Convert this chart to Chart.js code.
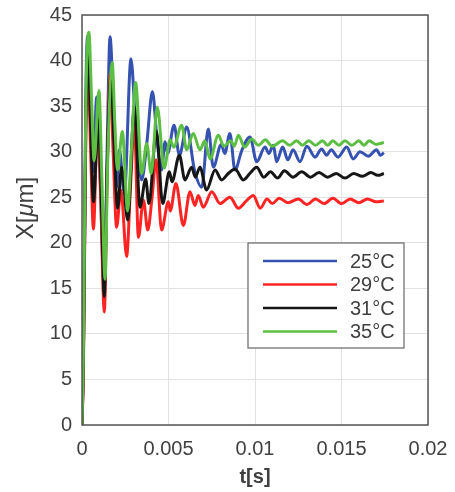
<!DOCTYPE html>
<html>
<head>
<meta charset="utf-8">
<script src="https://cdn.jsdelivr.net/npm/chart.js@4.4.0/dist/chart.umd.min.js"></script>
<style>
  html, body { margin: 0; padding: 0; background: #fff; }
  #wrap { width: 455px; height: 492px; }
</style>
</head>
<body>
<div id="wrap"><canvas id="tempChart" width="455" height="492"></canvas></div>
<script>
// series labels
const seriesLabels = ['25°C', '29°C', '31°C', '35°C'];

// tick labels
const xTicks = [0, 0.005, 0.01, 0.015, 0.02];
const yTicks = [0, 5, 10, 15, 20, 25, 30, 35, 40, 45];

// 25°C (blue)
const t25 = [0, 0.00008, 0.00015, 0.00022, 0.00033, 0.0005, 0.00065, 0.00085, 0.00105, 0.00129, 0.00145, 0.00162, 0.0018, 0.002, 0.00216, 0.00245, 0.00283, 0.0031, 0.00345, 0.00375, 0.00407, 0.00435, 0.0046, 0.0048, 0.00495, 0.00532, 0.00563, 0.00605, 0.0065, 0.00692, 0.0073, 0.00759, 0.00805, 0.00825, 0.00855, 0.00884, 0.00925, 0.00971, 0.0101, 0.01058, 0.0108, 0.01106, 0.01125, 0.0116, 0.0119, 0.0122, 0.0126, 0.013, 0.01347, 0.01385, 0.01414, 0.0144, 0.0148, 0.0153, 0.01568, 0.01607, 0.01655, 0.01703, 0.01725, 0.01745];
const x25 = [0, 7, 21, 36, 42.7, 35, 27.8, 36, 27, 14.8, 30, 42.6, 36, 26.1, 30.2, 25.4, 40.2, 33, 26.9, 31, 36.6, 31, 28, 31.1, 29.8, 32.9, 29.6, 32.7, 28, 26.1, 32.5, 28.3, 30.8, 29.8, 32, 28, 30.2, 31.6, 28.9, 30.5, 29.8, 30.7, 28.9, 30.5, 29.1, 30.2, 28.9, 30.6, 29.4, 30.3, 29.6, 30.2, 29.4, 30.5, 29.2, 30, 29.5, 30.2, 29.6, 29.9];

// 29°C (red)
const t29 = [0, 0.00008, 0.00015, 0.00022, 0.00035, 0.0005, 0.00066, 0.0009, 0.00108, 0.00129, 0.00145, 0.00162, 0.0018, 0.002, 0.00225, 0.00258, 0.0028, 0.00303, 0.00326, 0.00355, 0.0038, 0.00405, 0.00428, 0.0046, 0.00499, 0.0051, 0.00543, 0.00586, 0.00624, 0.00653, 0.00672, 0.00701, 0.0075, 0.00798, 0.00855, 0.00904, 0.0095, 0.0099, 0.0103, 0.0107, 0.011, 0.0114, 0.0119, 0.0125, 0.013, 0.0135, 0.014, 0.0145, 0.015, 0.0155, 0.016, 0.0165, 0.017, 0.01745];
const x29 = [0, 6, 19, 32, 39, 30, 21.5, 33.5, 25, 12.4, 27, 38.5, 30, 21.7, 25.8, 18.5, 26, 33, 20.6, 24.7, 21.4, 25, 29.1, 21.4, 24.5, 23.5, 26.5, 21.9, 25.6, 24.1, 25.2, 23.9, 25.6, 24.3, 25, 23.8, 24.6, 25.2, 23.8, 24.8, 24.3, 24.9, 24.4, 24.8, 24.2, 24.8, 24.3, 24.9, 24.3, 24.8, 24.4, 24.8, 24.5, 24.6];

// 31°C (black)
const t31 = [0, 0.00008, 0.00015, 0.00022, 0.00037, 0.0005, 0.00066, 0.00094, 0.0011, 0.00129, 0.00145, 0.00168, 0.00185, 0.00206, 0.00229, 0.00264, 0.00303, 0.00335, 0.00368, 0.00387, 0.0043, 0.00466, 0.00505, 0.0052, 0.00563, 0.00595, 0.00634, 0.00655, 0.00682, 0.0072, 0.00769, 0.00807, 0.00845, 0.00884, 0.00933, 0.0097, 0.0101, 0.0105, 0.0109, 0.0113, 0.0117, 0.0122, 0.0127, 0.0132, 0.0137, 0.0142, 0.0147, 0.0152, 0.0157, 0.0162, 0.0167, 0.0171, 0.01745];
const x31 = [0, 7, 20, 33, 40.4, 33, 24.5, 33.5, 26, 14.1, 28, 38.5, 31, 23.8, 28.3, 22.5, 34.9, 23.9, 27, 24.3, 32.3, 24.3, 27.8, 26.7, 29.6, 26.9, 28.3, 27.2, 28.3, 25.8, 28, 26.9, 27.6, 28.1, 26.9, 27.6, 28.3, 27.2, 27.8, 27.1, 27.9, 27.2, 27.8, 27.2, 27.7, 27.2, 27.6, 27.1, 27.6, 27.3, 27.7, 27.4, 27.6];

// 35°C (green)
const t35 = [0, 0.00008, 0.00014, 0.00022, 0.0004, 0.00055, 0.0007, 0.00098, 0.00115, 0.00133, 0.0015, 0.00175, 0.0019, 0.00205, 0.00233, 0.00264, 0.00285, 0.0031, 0.00345, 0.00374, 0.004, 0.00435, 0.00475, 0.00509, 0.0053, 0.00576, 0.00605, 0.00643, 0.00682, 0.0071, 0.0074, 0.00788, 0.0082, 0.0086, 0.0088, 0.00904, 0.0094, 0.00981, 0.0102, 0.0106, 0.011, 0.0116, 0.012, 0.0124, 0.01275, 0.0131, 0.0135, 0.0139, 0.0142, 0.0145, 0.01485, 0.0152, 0.0156, 0.016, 0.0163, 0.0166, 0.017, 0.01745];
const x35 = [0, 8, 20, 35, 43.1, 36, 29, 36.7, 27, 16, 30, 39.8, 33, 28, 32.2, 23.5, 30, 37.6, 27.6, 30.9, 27.6, 34.9, 28.2, 31.3, 30.5, 32.9, 30.2, 32, 30.2, 31.2, 29.2, 31.8, 30.6, 31.2, 30.6, 31.8, 30.5, 31.4, 30.7, 31.3, 30.6, 31.2, 30.7, 31.2, 30.7, 31.2, 30.7, 31.2, 30.7, 31.2, 30.7, 31.2, 30.7, 31.2, 30.7, 31.2, 30.8, 31];

const seriesT = [t25, t29, t31, t35];
const seriesX = [x25, x29, x31, x35];
const seriesColors = ['#3552b0', '#ff2424', '#161616', '#5cbf43'];
const drawOrder = [3, 2, 1, 0]; // green on top

const textColor = '#404040';
const fontFamily = 'Arial, "Liberation Sans", sans-serif';

// box around plot area, y title with italic mu, legend inside plot
const framePlugin = {
  id: 'frame',
  afterDraw(chart) {
    const { ctx, chartArea: a } = chart;
    ctx.save();
    ctx.strokeStyle = '#555';
    ctx.lineWidth = 1.5;
    ctx.strokeRect(a.left, a.top, a.right - a.left, a.bottom - a.top);

    // y axis title: X[μm]
    const parts = [['X[', ''], ['μ', 'italic '], ['m]', '']];
    ctx.translate(26, 208);
    ctx.rotate(-Math.PI / 2);
    let total = 0;
    parts.forEach(p => { ctx.font = p[1] + '24px ' + fontFamily; total += ctx.measureText(p[0]).width; });
    let px = -total / 2;
    ctx.fillStyle = textColor;
    ctx.textBaseline = 'middle';
    parts.forEach(p => {
      ctx.font = p[1] + '24px ' + fontFamily;
      ctx.fillText(p[0], px, 0);
      px += ctx.measureText(p[0]).width;
    });
    ctx.setTransform(1, 0, 0, 1, 0, 0);

    // legend
    const bx = 248, by = 243, bw = 156, bh = 105;
    ctx.fillStyle = '#fff';
    ctx.fillRect(bx, by, bw, bh);
    ctx.strokeStyle = '#666';
    ctx.lineWidth = 1.2;
    ctx.strokeRect(bx, by, bw, bh);
    ctx.font = '20px ' + fontFamily;
    ctx.textBaseline = 'middle';
    chart.data.datasets.forEach((ds, i) => {
      const y = by + 18 + i * 23.5;
      ctx.strokeStyle = ds.borderColor;
      ctx.lineWidth = 2.5;
      ctx.beginPath();
      ctx.moveTo(bx + 15, y);
      ctx.lineTo(bx + 89, y);
      ctx.stroke();
      ctx.fillStyle = textColor;
      ctx.fillText(ds.label, bx + 102, y + 1);
    });
    ctx.restore();
  }
};

const ctx = document.getElementById('tempChart').getContext('2d');
new Chart(ctx, {
  type: 'line',
  data: {
    datasets: seriesLabels.map((label, i) => ({
      label: label,
      data: seriesT[i].map((t, j) => ({ x: t, y: seriesX[i][j] })),
      borderColor: seriesColors[i],
      backgroundColor: seriesColors[i],
      borderWidth: 3,
      pointRadius: 0,
      cubicInterpolationMode: 'monotone',
      order: drawOrder[i]
    }))
  },
  options: {
    responsive: false,
    animation: false,
    layout: { padding: { top: 15, right: 27, left: 0, bottom: 0 } },
    plugins: {
      legend: { display: false },
      tooltip: { enabled: false }
    },
    scales: {
      x: {
        type: 'linear',
        min: 0,
        max: 0.02,
        afterBuildTicks: scale => { scale.ticks = xTicks.map(v => ({ value: v })); },
        afterFit: scale => {
          scale.height = 67;
          scale.paddingLeft = 0;
          scale.paddingRight = 0;
        },
        grid: { color: '#e2e2e2', lineWidth: 1, drawTicks: false },
        border: { display: false },
        ticks: {
          color: textColor,
          padding: 12,
          maxRotation: 0,
          font: { size: 20, family: fontFamily },
          callback: v => String(v)
        },
        title: {
          display: true,
          text: 't[s]',
          color: textColor,
          padding: { top: 0, bottom: 3 },
          font: { size: 20, weight: 'bold', family: fontFamily }
        }
      },
      y: {
        min: 0,
        max: 45,
        afterBuildTicks: scale => { scale.ticks = yTicks.map(v => ({ value: v })); },
        afterFit: scale => {
          scale.width = 82;
          scale.paddingTop = 0;
          scale.paddingBottom = 0;
        },
        grid: { color: '#e2e2e2', lineWidth: 1, drawTicks: false },
        border: { display: false },
        ticks: {
          color: textColor,
          padding: 10,
          font: { size: 20, family: fontFamily }
        },
        title: { display: false }
      }
    }
  },
  plugins: [framePlugin]
});
</script>
</body>
</html>
